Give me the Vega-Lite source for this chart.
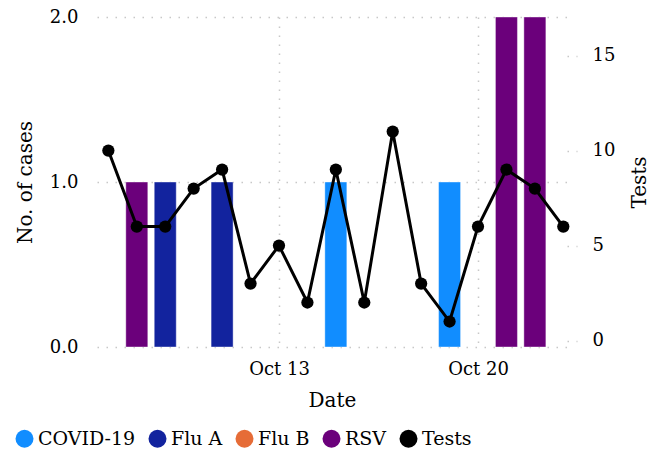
{
  "$schema": "https://vega.github.io/schema/vega-lite/v6.json",
  "width": 470,
  "height": 330,
  "autosize": {"type": "none"},
  "padding": {"left": 97, "top": 17, "right": 92, "bottom": 107},
  "config": {
    "view": {"stroke": null},
    "font": "DejaVu Serif",
    "axis": {"labelFont": "DejaVu Serif", "titleFont": "DejaVu Serif", "labelColor": "#000", "titleColor": "#000", "titleFontWeight": "normal", "labelFontSize": 18, "titleFontSize": 20, "domain": false},
    "legend": {"labelFont": "DejaVu Serif", "labelColor": "#000"}
  },
  "datasets": {
    "cases": [
      {"date": "2023-10-08", "virus": "RSV", "cases": 1},
      {"date": "2023-10-09", "virus": "Flu A", "cases": 1},
      {"date": "2023-10-11", "virus": "Flu A", "cases": 1},
      {"date": "2023-10-15", "virus": "COVID-19", "cases": 1},
      {"date": "2023-10-19", "virus": "COVID-19", "cases": 1},
      {"date": "2023-10-21", "virus": "RSV", "cases": 2},
      {"date": "2023-10-22", "virus": "RSV", "cases": 2}
    ],
    "tests": [
      {"date": "2023-10-07", "tests": 10},
      {"date": "2023-10-08", "tests": 6},
      {"date": "2023-10-09", "tests": 6},
      {"date": "2023-10-10", "tests": 8},
      {"date": "2023-10-11", "tests": 9},
      {"date": "2023-10-12", "tests": 3},
      {"date": "2023-10-13", "tests": 5},
      {"date": "2023-10-14", "tests": 2},
      {"date": "2023-10-15", "tests": 9},
      {"date": "2023-10-16", "tests": 2},
      {"date": "2023-10-17", "tests": 11},
      {"date": "2023-10-18", "tests": 3},
      {"date": "2023-10-19", "tests": 1},
      {"date": "2023-10-20", "tests": 6},
      {"date": "2023-10-21", "tests": 9},
      {"date": "2023-10-22", "tests": 8},
      {"date": "2023-10-23", "tests": 6}
    ]
  },
  "encoding": {
    "x": {
      "field": "date",
      "type": "temporal",
      "title": "Date",
      "scale": {
        "type": "utc",
        "nice": false,
        "padding": 0,
        "domain": [
          {"year": 2023, "month": 10, "date": 6, "hours": 14, "minutes": 24, "utc": true},
          {"year": 2023, "month": 10, "date": 23, "hours": 3, "minutes": 7, "utc": true}
        ]
      },
      "axis": {
        "values": [
          {"year": 2023, "month": 10, "date": 13, "utc": true},
          {"year": 2023, "month": 10, "date": 20, "utc": true}
        ],
        "format": "%b %d",
        "grid": true,
        "gridColor": "#c8c8c8",
        "gridDash": [1.5, 7.5],
        "gridWidth": 1.5,
        "ticks": false,
        "tickSize": 0,
        "labelPadding": 13,
        "titlePadding": 12
      }
    }
  },
  "layer": [
    {
      "data": {"name": "cases"},
      "mark": {"type": "bar", "size": 22, "stroke": "white", "strokeWidth": 1, "strokeOpacity": 0.4},
      "encoding": {
        "y": {
          "field": "cases",
          "type": "quantitative",
          "title": "No. of cases",
          "stack": null,
          "scale": {"domain": [0, 2], "nice": false},
          "axis": {
            "values": [0, 1, 2],
            "format": ".1f",
            "grid": true,
            "gridColor": "#c8c8c8",
            "gridDash": [1.5, 7.5],
            "gridWidth": 1.5,
            "ticks": false,
            "tickSize": 0,
            "labelPadding": 19,
            "titlePadding": 14
          }
        },
        "color": {
          "field": "virus",
          "type": "nominal",
          "scale": {
            "domain": ["COVID-19", "Flu A", "Flu B", "RSV", "Tests"],
            "range": ["#118DFF", "#12239E", "#E66C37", "#6B007B", "#000000"]
          },
          "legend": {
            "title": null,
            "orient": "none",
            "direction": "horizontal",
            "legendX": -82,
            "legendY": 412,
            "symbolType": "circle",
            "symbolSize": 324,
            "symbolStrokeWidth": 0,
            "symbolOpacity": 1,
            "labelFontSize": 19,
            "labelOffset": 4,
            "columnPadding": 12
          }
        }
      }
    },
    {
      "data": {"name": "tests"},
      "mark": {"type": "line", "color": "black", "strokeWidth": 3, "point": {"filled": true, "size": 150, "color": "black"}},
      "encoding": {
        "y": {
          "field": "tests",
          "type": "quantitative",
          "title": "Tests",
          "scale": {"domain": [-0.34, 17.03], "nice": false, "zero": false},
          "axis": {
            "orient": "right",
            "values": [0, 5, 10, 15],
            "grid": false,
            "ticks": true,
            "tickSize": 10,
            "tickColor": "#c8c8c8",
            "tickDash": [1.5, 7.5],
            "tickWidth": 1.5,
            "labelPadding": 15,
            "titleAngle": -90,
            "titlePadding": 35
          }
        }
      }
    }
  ],
  "resolve": {"scale": {"y": "independent"}}
}
